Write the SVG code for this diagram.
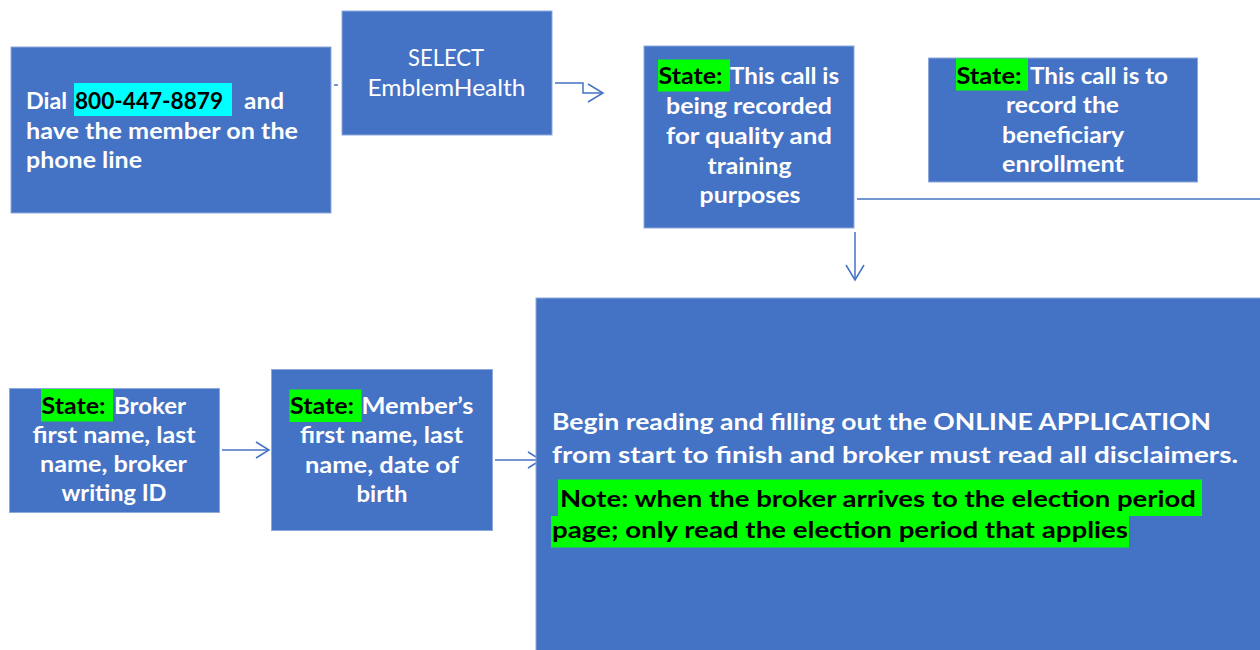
<svg xmlns="http://www.w3.org/2000/svg" width="1260" height="650" viewBox="0 0 1260 650">
  <style>
    .box { fill: #4472C4; stroke: #8EA9DB; stroke-width: 1; }
    .b { font-family: Lato, "Open Sans", "Liberation Sans", sans-serif; font-weight: 700; font-size: 23px; fill: #FFFFFF; }
    .r { font-family: Lato, "Open Sans", "Liberation Sans", sans-serif; font-weight: 400; font-size: 23px; fill: #FFFFFF; }
    .k { fill: #000000; }
    .hl-g { fill: #00FF00; }
    .hl-c { fill: #00FFFF; }
    .conn { fill: none; stroke: #4472C4; stroke-width: 1.5; }
  </style>
  <defs>
    <marker id="chev" markerUnits="userSpaceOnUse" markerWidth="40" markerHeight="40" refX="20" refY="20" orient="auto">
      <polyline points="5,11 20,20 5,29" fill="none" stroke="#4472C4" stroke-width="1.5"/>
    </marker>
    <marker id="chevS" markerUnits="userSpaceOnUse" markerWidth="40" markerHeight="40" refX="20" refY="20" orient="auto">
      <polyline points="7,12 20,20 7,28" fill="none" stroke="#4472C4" stroke-width="1.5"/>
    </marker>
  </defs>
  <rect width="1260" height="650" fill="#FFFFFF"/>

  <g id="connectors">
    <path class="conn" d="M334,85 H338"/>
    <path class="conn" d="M555,83 H583 V93 H603" marker-end="url(#chev)"/>
    <path class="conn" d="M857,199 H1260"/>
    <path class="conn" d="M855,232 V280" marker-end="url(#chev)"/>
    <path class="conn" d="M222,450 H269" marker-end="url(#chevS)"/>
    <path class="conn" d="M495,460 H541" marker-end="url(#chevS)"/>
  </g>

  <g id="node-dial">
    <rect class="box" x="11" y="47" width="320" height="166"/>
    <rect class="hl-c" x="74" y="83" width="158" height="33"/>
    <text class="b" x="26" y="108.5" textLength="41" lengthAdjust="spacingAndGlyphs">Dial</text>
    <text class="b k" x="75" y="108.5" textLength="148" lengthAdjust="spacingAndGlyphs">800-447-8879</text>
    <text class="b" x="244" y="108.5" textLength="40" lengthAdjust="spacingAndGlyphs">and</text>
    <text class="b" x="26" y="138.5" textLength="272" lengthAdjust="spacingAndGlyphs">have the member on the</text>
    <text class="b" x="26" y="168" textLength="116" lengthAdjust="spacingAndGlyphs">phone line</text>
  </g>

  <g id="node-select">
    <rect class="box" x="342" y="11" width="210" height="124"/>
    <text class="r" x="408" y="66" textLength="76" lengthAdjust="spacingAndGlyphs">SELECT</text>
    <text class="r" x="367.5" y="96" textLength="158" lengthAdjust="spacingAndGlyphs">EmblemHealth</text>
  </g>

  <g id="node-recorded">
    <rect class="box" x="644" y="46" width="210" height="182"/>
    <rect class="hl-g" x="658" y="59.5" width="72" height="32"/>
    <text class="b k" x="658.5" y="84" textLength="64" lengthAdjust="spacingAndGlyphs">State:</text>
    <text class="b" x="730" y="84" textLength="109" lengthAdjust="spacingAndGlyphs">This call is</text>
    <text class="b" x="666" y="114" textLength="166" lengthAdjust="spacingAndGlyphs">being recorded</text>
    <text class="b" x="666" y="144" textLength="166" lengthAdjust="spacingAndGlyphs">for quality and</text>
    <text class="b" x="707.5" y="173.5" textLength="84" lengthAdjust="spacingAndGlyphs">training</text>
    <text class="b" x="699.5" y="203" textLength="101" lengthAdjust="spacingAndGlyphs">purposes</text>
  </g>

  <g id="node-enrollment">
    <rect class="box" x="928.5" y="58" width="269" height="124"/>
    <rect class="hl-g" x="956" y="58.5" width="72" height="32"/>
    <text class="b k" x="956.5" y="83.5" textLength="65" lengthAdjust="spacingAndGlyphs">State:</text>
    <text class="b" x="1030" y="83.5" textLength="138" lengthAdjust="spacingAndGlyphs">This call is to</text>
    <text class="b" x="1006" y="113" textLength="113" lengthAdjust="spacingAndGlyphs">record the</text>
    <text class="b" x="1002" y="142.5" textLength="122" lengthAdjust="spacingAndGlyphs">beneficiary</text>
    <text class="b" x="1002" y="171.5" textLength="122" lengthAdjust="spacingAndGlyphs">enrollment</text>
  </g>

  <g id="node-broker">
    <rect class="box" x="9.5" y="388.5" width="210" height="124"/>
    <rect class="hl-g" x="41" y="389" width="72" height="32.5"/>
    <text class="b k" x="41.5" y="413.5" textLength="64" lengthAdjust="spacingAndGlyphs">State:</text>
    <text class="b" x="114" y="413.5" textLength="72" lengthAdjust="spacingAndGlyphs">Broker</text>
    <text class="b" x="32.5" y="443" textLength="163" lengthAdjust="spacingAndGlyphs">first name, last</text>
    <text class="b" x="40" y="472" textLength="147" lengthAdjust="spacingAndGlyphs">name, broker</text>
    <text class="b" x="61.5" y="500.5" textLength="105" lengthAdjust="spacingAndGlyphs">writing ID</text>
  </g>

  <g id="node-member">
    <rect class="box" x="271.5" y="369.5" width="221" height="161"/>
    <rect class="hl-g" x="289.5" y="389.5" width="72" height="32.5"/>
    <text class="b k" x="290" y="413.5" textLength="64" lengthAdjust="spacingAndGlyphs">State:</text>
    <text class="b" x="361.5" y="413.5" textLength="112" lengthAdjust="spacingAndGlyphs">Member’s</text>
    <text class="b" x="300" y="443" textLength="163" lengthAdjust="spacingAndGlyphs">first name, last</text>
    <text class="b" x="305" y="472.5" textLength="154" lengthAdjust="spacingAndGlyphs">name, date of</text>
    <text class="b" x="356.5" y="501.5" textLength="51" lengthAdjust="spacingAndGlyphs">birth</text>
  </g>

  <g id="node-application">
    <rect class="box" x="536" y="298" width="730" height="360"/>
    <text class="b" x="552" y="430" textLength="659" lengthAdjust="spacingAndGlyphs">Begin reading and filling out the ONLINE APPLICATION</text>
    <text class="b" x="552" y="462.5" textLength="686" lengthAdjust="spacingAndGlyphs">from start to finish and broker must read all disclaimers.</text>
    <rect class="hl-g" x="558" y="479.5" width="644" height="36.5"/>
    <rect class="hl-g" x="551" y="516" width="578" height="31.5"/>
    <text class="b k" x="560" y="506.5" textLength="636" lengthAdjust="spacingAndGlyphs">Note: when the broker arrives to the election period</text>
    <text class="b k" x="552" y="538" textLength="576" lengthAdjust="spacingAndGlyphs">page; only read the election period that applies</text>
  </g>
</svg>
